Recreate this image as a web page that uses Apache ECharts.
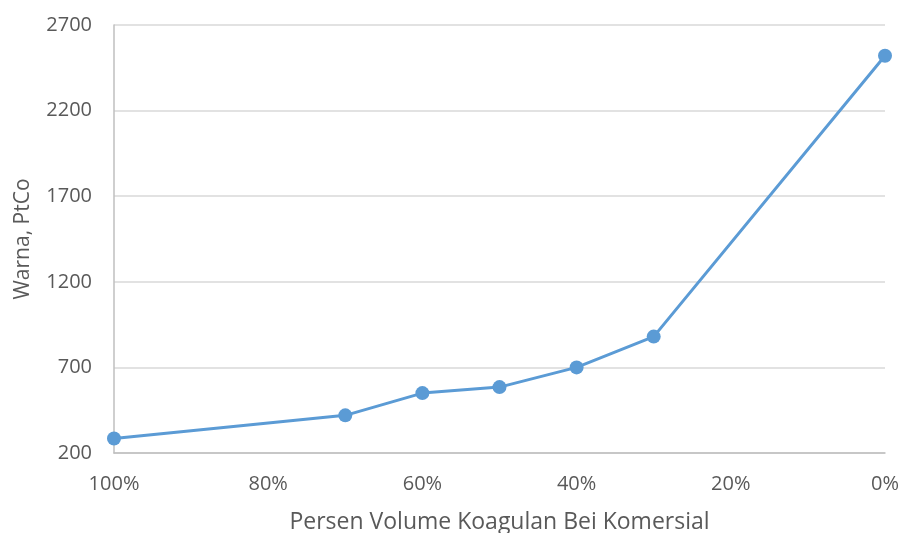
<!DOCTYPE html>
<html>
<head>
<meta charset="utf-8">
<script src="https://cdn.jsdelivr.net/npm/echarts@6/dist/echarts.min.js"></script>
<style>
  html, body { margin: 0; padding: 0; background: #fff; }
  #main { width: 904px; height: 533px; }
</style>
</head>
<body>
<div id="main"></div>
<script>
// data
var persen = [100, 70, 60, 50, 40, 30, 0];
var warna = [285, 420, 550, 585, 700, 880, 2520];
var xTicks = [0, 20, 40, 60, 80, 100];
var yTicks = [200, 700, 1200, 1700, 2200, 2700];

var chart = echarts.init(document.getElementById('main'));

var textColor = '#595959';
var fontFam = '"Open Sans", "Noto Sans", sans-serif';

var option = {
  backgroundColor: '#fff',
  animation: false,
  grid: {
    left: 114,
    right: 19,
    top: 25,
    bottom: 80,
    outerBoundsMode: 'none',
    containLabel: false
  },
  xAxis: {
    type: 'value',
    inverse: true,
    min: xTicks[0],
    max: xTicks[xTicks.length - 1],
    interval: 20,
    name: 'Persen Volume Koagulan Bei Komersial',
    nameLocation: 'middle',
    nameGap: 58,
    nameTextStyle: { color: textColor, fontSize: 23, fontFamily: fontFam },
    axisLine: { show: true, onZero: false, lineStyle: { color: '#bfbfbf', width: 1.5 } },
    axisTick: { show: false },
    splitLine: { show: false },
    axisLabel: {
      color: textColor,
      fontSize: 20,
      fontFamily: fontFam,
      margin: 21,
      formatter: function (v) { return v + '%'; }
    }
  },
  yAxis: {
    type: 'value',
    min: yTicks[0],
    max: yTicks[yTicks.length - 1],
    interval: 500,
    name: 'Warna, PtCo',
    nameLocation: 'middle',
    nameGap: 80,
    nameTextStyle: { color: textColor, fontSize: 21, fontFamily: fontFam },
    axisLine: { show: true, onZero: false, lineStyle: { color: '#bfbfbf', width: 1.5 } },
    axisTick: { show: false },
    splitLine: { show: true, lineStyle: { color: '#d9d9d9', width: 1.5 } },
    axisLabel: {
      color: textColor,
      fontSize: 20,
      fontFamily: fontFam,
      margin: 22,
      formatter: function (v) { return String(v); }
    }
  },
  series: [{
    type: 'line',
    data: persen.map(function (p, i) { return [p, warna[i]]; }),
    symbol: 'circle',
    symbolSize: 14,
    lineStyle: { color: '#5b9bd5', width: 3 },
    itemStyle: { color: '#5b9bd5' }
  }]
};

chart.setOption(option);
</script>
</body>
</html>
